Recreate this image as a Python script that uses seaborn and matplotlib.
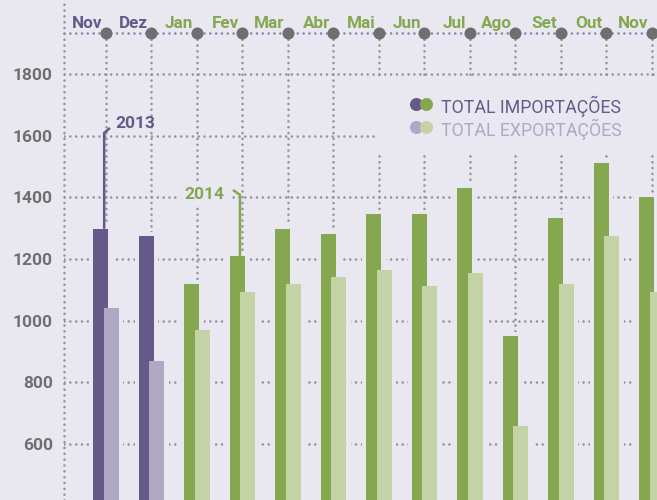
import numpy as np
import pandas as pd
import matplotlib
matplotlib.use("Agg")
import matplotlib.pyplot as plt
from matplotlib.patches import Rectangle
import seaborn as sns

# dados (milhões)
meses = ['Nov', 'Dez', 'Jan', 'Fev', 'Mar', 'Abr', 'Mai', 'Jun', 'Jul', 'Ago', 'Set', 'Out', 'Nov']
anos = ['2013', '2013', '2014', '2014', '2014', '2014', '2014', '2014', '2014', '2014', '2014', '2014', '2014']
importacoes = [1298, 1275, 1120, 1210, 1298, 1282, 1347, 1347, 1431, 951, 1334, 1510, 1402]
exportacoes = [1040, 870, 970, 1093, 1120, 1142, 1165, 1113, 1155, 658, 1120, 1275, 1093]
y_ticks = [600, 800, 1000, 1200, 1400, 1600, 1800]

# cores
BG = '#E9E8F1'
ROXO = '#65598A'
ROXO_CLARO = '#AFA7C4'
VERDE = '#84A750'
VERDE_CLARO = '#C4D3A6'
GRID = '#94939A'
CINZA = '#6F6F6F'

sns.set_theme(style='white')
plt.rcParams['font.family'] = ['Roboto', 'DejaVu Sans']

df = pd.DataFrame({'mes': meses, 'ano': anos, 'imp': importacoes, 'exp': exportacoes})
df['pos'] = np.arange(len(df))
df['pos_imp'] = df['pos'] - 0.11
df['pos_exp'] = df['pos'] + 0.12

fig = plt.figure(figsize=(6.57, 5.0), dpi=100)
fig.patch.set_facecolor(BG)
ax = fig.add_axes([64 / 657, 0, 593 / 657, 1])
ax.set_facecolor(BG)

bw = 0.33
halo_w = bw + 0.18
halo_h = 13

# halo de fundo em volta das barras (esconde a grelha)
df['imp_h'] = df['imp'] + halo_h
df['exp_h'] = df['exp'] + halo_h
sns.barplot(data=df, x='pos_imp', y='imp_h', native_scale=True, width=halo_w,
            color=BG, saturation=1, linewidth=0, zorder=2, ax=ax)
sns.barplot(data=df, x='pos_exp', y='exp_h', native_scale=True, width=halo_w,
            color=BG, saturation=1, linewidth=0, zorder=2, ax=ax)

# importações
sns.barplot(data=df, x='pos_imp', y='imp', hue='ano', native_scale=True, dodge=False,
            width=bw, palette={'2013': ROXO, '2014': VERDE}, saturation=1,
            linewidth=0, legend=False, zorder=3, ax=ax)
# exportações
sns.barplot(data=df, x='pos_exp', y='exp', hue='ano', native_scale=True, dodge=False,
            width=bw, palette={'2013': ROXO_CLARO, '2014': VERDE_CLARO}, saturation=1,
            linewidth=0, legend=False, zorder=4, ax=ax)

ax.set_xlim(-0.923, 12.11)
ax.set_ylim(418.4, 2040)
ax.set_xlabel('')
ax.set_ylabel('')
ax.set_xticks([])
ax.set_yticks(y_ticks)
ax.set_yticklabels([str(v) for v in y_ticks], fontsize=12.5, fontweight='bold', color=CINZA)
ax.tick_params(axis='y', length=0, pad=8)

# grelha pontilhada (pontos redondos)
dots = (0, (0.01, 2.2))
glw = 1.9
ax.set_axisbelow(True)
ax.yaxis.grid(True, linestyle=dots, color=GRID, linewidth=glw, dash_capstyle='round')
for s in ['top', 'right', 'bottom']:
    ax.spines[s].set_visible(False)
ax.spines['left'].set_linestyle(dots)
ax.spines['left'].set_color(GRID)
ax.spines['left'].set_linewidth(glw)
ax.spines['left'].set_capstyle('round')

# linha do topo com meses
y_topo = 1933
ax.vlines(df['pos'], 418.4, y_topo, colors=GRID, linestyles=dots, linewidth=glw,
          capstyle='round', zorder=0.6)
ax.plot([-0.923, 12.2], [y_topo, y_topo], color='#8A83AB', ls=dots, lw=glw,
        dash_capstyle='round', zorder=1, clip_on=False)
ax.scatter(df['pos'], [y_topo] * len(df), s=75, color=CINZA, zorder=6, clip_on=False,
           linewidths=0)
for p, m, a in zip(df['pos'], meses, anos):
    ax.text(p - 0.077, 1949, m, ha='right', va='baseline', fontsize=12.3, fontweight='bold',
            color=ROXO if a == '2013' else VERDE, zorder=7)

# anotações dos anos
ax.plot([-0.04, -0.04, 0.088], [importacoes[0], 1609, 1625], color=ROXO, lw=1.8,
        solid_capstyle='butt', zorder=5)
ax.text(0.198, 1625, '2013', ha='left', va='baseline', fontsize=12.5, fontweight='bold',
        color=ROXO, zorder=7)
ax.plot([2.945, 2.945, 2.79], [importacoes[3], 1408, 1424], color=VERDE, lw=1.8,
        solid_capstyle='butt', zorder=5)
ax.text(2.593, 1395, '2014', ha='right', va='baseline', fontsize=12.5, fontweight='bold',
        color=VERDE, zorder=7,
        bbox=dict(boxstyle='square,pad=0.3', facecolor=BG, edgecolor='none'))

# legenda
ax.add_patch(Rectangle((5.98, 1537), 6.3, 253, facecolor=BG, edgecolor='none', zorder=1.5))
ax.scatter([6.813], [1702.7], s=88, color=ROXO, zorder=6, linewidths=0)
ax.scatter([7.033], [1702.7], s=88, color=VERDE, zorder=6, linewidths=0)
ax.scatter([6.813], [1628], s=88, color=ROXO_CLARO, zorder=6, linewidths=0)
ax.scatter([7.033], [1628], s=88, color=VERDE_CLARO, zorder=6, linewidths=0)
ax.text(7.363, 1696, 'TOTAL IMPORTAÇÕES', ha='left', va='center', fontsize=12.8,
        color=ROXO, zorder=7)
ax.text(7.363, 1621, 'TOTAL EXPORTAÇÕES', ha='left', va='center', fontsize=12.8,
        color=ROXO_CLARO, zorder=7)

fig.savefig('out.png', dpi=100, facecolor=BG)
